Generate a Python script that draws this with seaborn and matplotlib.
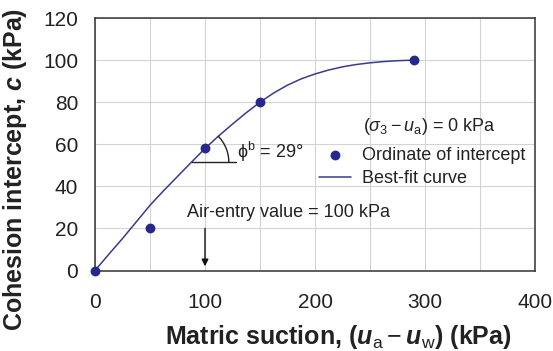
import numpy as np
import pandas as pd
import matplotlib
matplotlib.use("Agg")
import matplotlib.pyplot as plt
from matplotlib.ticker import MultipleLocator
import seaborn as sns

# Measured cohesion intercepts versus matric suction
suction_kpa = [0, 50, 100, 150, 290]
cohesion_kpa = [0, 20, 58, 80, 100]

# Best-fit curve through the intercepts
fit_suction = [0, 12.5, 25, 37.5, 50, 62.5, 75, 87.5, 100, 112.5, 125, 137.5, 150,
               162.5, 175, 187.5, 200, 212.5, 225, 237.5, 250, 262.5, 275, 290]
fit_cohesion = [0, 7.7, 15.2, 23.1, 31, 38, 44.7, 51.4, 58, 64, 69.6, 75, 80,
                84.4, 88.1, 91.1, 93.4, 95.3, 96.8, 97.9, 98.7, 99.3, 99.7, 100]

x_ticks = [0, 100, 200, 300, 400]
y_ticks = [0, 20, 40, 60, 80, 100, 120]

friction_angle_b = 29
air_entry_kpa = 100

sns.set_theme(style="white")
plt.rcParams["font.family"] = ["Liberation Sans", "DejaVu Sans"]
plt.rcParams["mathtext.fontset"] = "custom"
plt.rcParams["mathtext.rm"] = "Liberation Sans"
plt.rcParams["mathtext.it"] = "Liberation Sans:italic"
plt.rcParams["mathtext.bf"] = "Liberation Sans:bold"
plt.rcParams["mathtext.bfit"] = "Liberation Sans:bold:italic"
plt.rcParams["mathtext.sf"] = "Liberation Sans"

navy = "#28288c"
curve_col = "#3a3a8e"
ink = "#222222"

fig = plt.figure(figsize=(5.53, 3.51), dpi=100)
ax = fig.add_axes([0.1718, 0.2293, 0.7957, 0.7194])

pts = pd.DataFrame({"suction": suction_kpa, "cohesion": cohesion_kpa})
fit = pd.DataFrame({"suction": fit_suction, "cohesion": fit_cohesion})

sns.scatterplot(data=pts, x="suction", y="cohesion", ax=ax, color=navy,
                s=50, edgecolor=navy, linewidth=0, label="Ordinate of intercept",
                zorder=4, clip_on=False)
sns.lineplot(data=fit, x="suction", y="cohesion", ax=ax, color=curve_col,
             linewidth=1.1, label="Best-fit curve", zorder=3, sort=True)

ax.set_xlim(0, 400)
ax.set_ylim(0, 120)
ax.set_xticks(x_ticks)
ax.set_yticks(y_ticks)
ax.xaxis.set_minor_locator(MultipleLocator(50))
ax.grid(True, which="both", axis="x", color="#d4d4d4", linewidth=0.8)
ax.grid(True, which="major", axis="y", color="#d4d4d4", linewidth=0.8)
ax.set_axisbelow(True)
ax.tick_params(axis="both", which="both", direction="in", length=4,
               color="#444444", labelsize=15, labelcolor=ink)
ax.tick_params(axis="x", which="major", pad=16)
ax.tick_params(axis="y", which="major", pad=12)
for sp in ax.spines.values():
    sp.set_color("#333333")
    sp.set_linewidth(1.1)

ax.set_xlabel(r"Matric suction, ($\mathbfit{u}_{\mathrm{a}} - \mathbfit{u}_{\mathrm{w}}$) (kPa)",
              fontsize=18, fontweight="bold", color=ink, va="center")
ax.set_ylabel(r"Cohesion intercept, $\mathbfit{c}$ (kPa)",
              fontsize=18, fontweight="bold", color=ink, va="center")
ax.xaxis.set_label_coords(0.552, -0.264)
ax.yaxis.set_label_coords(-0.182, 0.399)

# Legend with its heading written separately so the heading lines up with the labels
ax.text(243.6, 68.3, r"($\sigma_3 - u_\mathrm{a}$) = 0 kPa", fontsize=13,
        color=ink, va="center", ha="left")
leg = ax.legend(loc="upper left", bbox_to_anchor=(203.6, 58.7),
                bbox_transform=ax.transData, frameon=False, fontsize=13,
                handlelength=1.8, handletextpad=0.6, labelspacing=0.35,
                borderaxespad=0, borderpad=0)
for t in leg.get_texts():
    t.set_color(ink)

# Angle marker for phi_b on the linear part of the curve
fig.canvas.draw()
cx, cy = 88, 51.5
ax.plot([cx, cx + 40], [cy, cy], color=ink, linewidth=1.0, zorder=5)
c_disp = ax.transData.transform((cx, cy))
d = ax.transData.transform((112.5, 64)) - c_disp
slope_disp = np.degrees(np.arctan2(d[1], d[0]))
theta = np.radians(np.linspace(0, slope_disp, 40))
r = 37
arc_disp = np.column_stack([c_disp[0] + r * np.cos(theta), c_disp[1] + r * np.sin(theta)])
arc_data = ax.transData.inverted().transform(arc_disp)
ax.plot(arc_data[:, 0], arc_data[:, 1], color=ink, linewidth=1.0, zorder=5)
ax.text(129, 56.5, r"$\mathrm{\phi}^\mathrm{b}$ = %d°" % friction_angle_b, fontsize=13,
        color=ink, va="center", ha="left")

# Air-entry value marker
ax.text(84, 27.8, "Air-entry value = %d kPa" % air_entry_kpa, fontsize=13,
        color=ink, va="center", ha="left")
ax.annotate("", xy=(air_entry_kpa, 2.0), xytext=(air_entry_kpa, 20),
            arrowprops=dict(arrowstyle="-|>", color="#111111", lw=1.0,
                            mutation_scale=10, shrinkA=0, shrinkB=0))

fig.savefig("out.png", dpi=100, facecolor="white")
